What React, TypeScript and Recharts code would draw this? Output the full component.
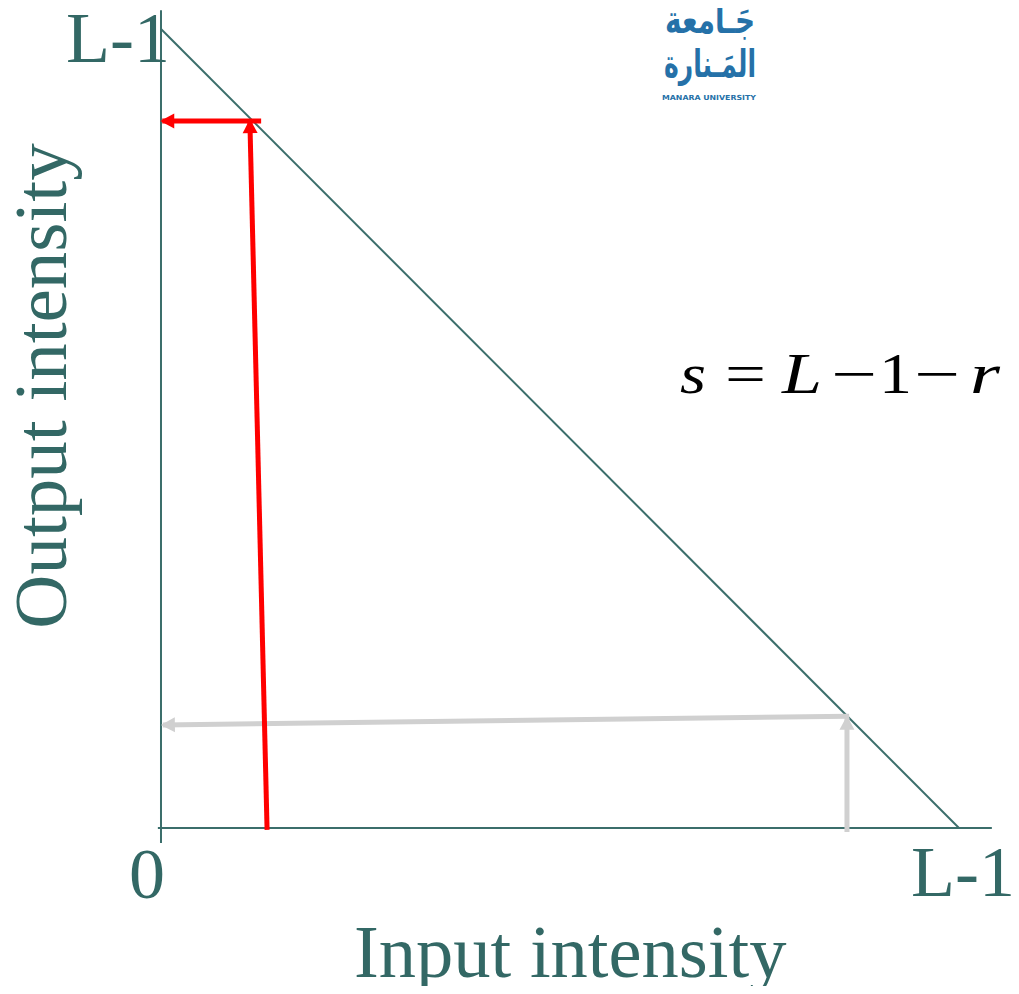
import React from "react";
import { LineChart, Line, XAxis, YAxis, ReferenceLine } from "recharts";

// intensity units, L-1 = 255
const LEVEL_MAX = 255;
const X_AXIS_END = 265.5;
const Y_AXIS_END = 261;

const negativeLine = [
  { x: 0, y: LEVEL_MAX },
  { x: LEVEL_MAX, y: 0 },
];

// dark input -> bright output
const darkInput = [
  { x: 33.9, y: -0.6 },
  { x: 28.4, y: 225.6 },
];
const brightOutput = [
  { x: 32, y: 225.6 },
  { x: 0.4, y: 225.6 },
];

// bright input -> dark output
const brightInput = [
  { x: 219.2, y: -1.3 },
  { x: 219.2, y: 35.2 },
];
const darkOutput = [
  { x: 219.9, y: 35.7 },
  { x: 0.6, y: 32.9 },
];

// s = L - 1 - r, one glyph per entry: [text, italic, left, advance]
const formula: [string, boolean, number, number][] = [
  ["s", true, 672, 26],
  ["=", false, 717, 41],
  ["L", true, 774, 40],
  ["−", false, 823, 46],
  ["1", false, 871, 33],
  ["−", false, 906, 46],
  ["r", true, 962, 30],
];

const CHART_W = 1003;
const CHART_H = 978;
const X_DOMAIN: [number, number] = [-10, 270];
const Y_DOMAIN: [number, number] = [-20, 261];
const MARGIN = { top: 2.2, right: 5.06, bottom: 95.33, left: 121.7 };
const SX = (CHART_W - MARGIN.left - MARGIN.right) / (X_DOMAIN[1] - X_DOMAIN[0]);
const SY = (CHART_H - MARGIN.top - MARGIN.bottom) / (Y_DOMAIN[1] - Y_DOMAIN[0]);

const TEAL = "#336865";
const AXIS = "#3b6e6b";
const RED = "#ff0000";
const GREY = "#d0d0d0";
const LOGO = "#2571a8";

type Pt = { x: number; y: number };

// arrowhead on the last point, turned along the final segment
const arrowDot = (pts: Pt[], color: string) => (props: any) => {
  const { cx, cy, index } = props;
  if (index !== pts.length - 1 || cx == null) return <g key={`n-${index}`} />;
  const a = pts[index - 1];
  const b = pts[index];
  const ang = (Math.atan2(-(b.y - a.y) * SY, (b.x - a.x) * SX) * 180) / Math.PI;
  return (
    <path
      key={`a-${index}`}
      transform={`translate(${cx},${cy}) rotate(${ang})`}
      d="M2,0 L-12,-7.5 L-12,7.5 Z"
      fill={color}
    />
  );
};

const serif = "'Liberation Serif', 'Times New Roman', serif";

export default function App() {
  return (
    <div style={{ position: "relative", width: CHART_W, height: CHART_H }}>
      <LineChart width={CHART_W} height={CHART_H} margin={MARGIN}>
        <XAxis type="number" dataKey="x" domain={X_DOMAIN} hide allowDataOverflow />
        <YAxis type="number" dataKey="y" domain={Y_DOMAIN} hide allowDataOverflow />
        <ReferenceLine
          segment={[{ x: -1, y: 0 }, { x: X_AXIS_END, y: 0 }]}
          stroke={AXIS}
          strokeWidth={2}
        />
        <ReferenceLine
          segment={[{ x: 0, y: -4.8 }, { x: 0, y: Y_AXIS_END }]}
          stroke={AXIS}
          strokeWidth={2}
        />
        <Line data={negativeLine} dataKey="y" stroke={AXIS} strokeWidth={2} dot={false} activeDot={false} isAnimationActive={false} />
        <Line data={brightInput} dataKey="y" stroke={GREY} strokeWidth={5} dot={arrowDot(brightInput, GREY)} activeDot={false} isAnimationActive={false} />
        <Line data={darkOutput} dataKey="y" stroke={GREY} strokeWidth={5} dot={arrowDot(darkOutput, GREY)} activeDot={false} isAnimationActive={false} />
        <Line data={darkInput} dataKey="y" stroke={RED} strokeWidth={5} dot={arrowDot(darkInput, RED)} activeDot={false} isAnimationActive={false} />
        <Line data={brightOutput} dataKey="y" stroke={RED} strokeWidth={5} dot={arrowDot(brightOutput, RED)} activeDot={false} isAnimationActive={false} />
      </LineChart>

      <svg
        width={CHART_W}
        height={CHART_H + 8}
        style={{ position: "absolute", left: 0, top: 0, pointerEvents: "none", overflow: "visible" }}
      >
        <g fill={TEAL} fontFamily={serif}>
          <text x={58} y={54} fontSize={72}>L-1</text>
          <text x={121} y={890} fontSize={72}>0</text>
          <text x={903} y={888} fontSize={72}>L-1</text>
          <text x={346} y={969} fontSize={74.5}>Input intensity</text>
          <text x={58} y={378} fontSize={75} textAnchor="middle" transform="rotate(-90 58 378)">
            Output intensity
          </text>
        </g>

        <g fontFamily={serif} fontSize={56} fill="#000">
          {formula.map(([t, it, x, w], i) => (
            <text
              key={i}
              x={x}
              y={385}
              fontStyle={it ? "italic" : "normal"}
              textLength={w}
              lengthAdjust="spacingAndGlyphs"
            >
              {t}
            </text>
          ))}
        </g>

        <g fill={LOGO} fontFamily="'DejaVu Sans', sans-serif">
          <text x={747} y={25} fontSize={38} fontWeight="bold" direction="rtl" textAnchor="start" textLength={90} lengthAdjust="spacingAndGlyphs">
            جَـامعة
          </text>
          <text x={748} y={69} fontSize={38} fontWeight="bold" direction="rtl" textAnchor="start" textLength={92} lengthAdjust="spacingAndGlyphs">
            المَـنارة
          </text>
          <text x={748} y={92} fontSize={7} fontWeight="bold" textAnchor="end" textLength={94} lengthAdjust="spacingAndGlyphs">
            MANARA UNIVERSITY
          </text>
        </g>
      </svg>
    </div>
  );
}
